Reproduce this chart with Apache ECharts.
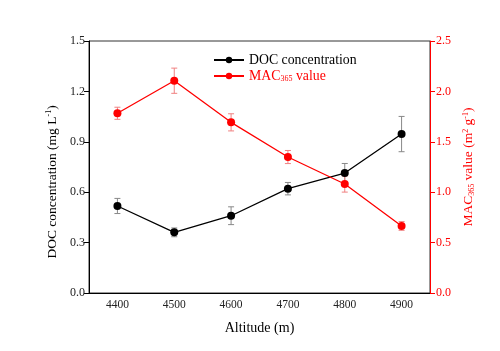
<!DOCTYPE html>
<html><head><meta charset="utf-8">
<script src="https://cdn.jsdelivr.net/npm/echarts@6/dist/echarts.min.js"></script>
<style>html,body{margin:0;padding:0;background:#fff}#c{width:500px;height:351px}</style>
</head><body><div id="c"></div>
<script>
var categories = ['4400','4500','4600','4700','4800','4900'];
var docValues = [0.518, 0.361, 0.460, 0.621, 0.714, 0.946];
var docErr = [0.045, 0.026, 0.053, 0.037, 0.057, 0.105];
var macValues = [1.783, 2.106, 1.693, 1.349, 1.081, 0.665];
var macErr = [0.060, 0.125, 0.085, 0.065, 0.080, 0.043];
var leftTicks = [0, 0.3, 0.6, 0.9, 1.2, 1.5];
var rightTicks = [0, 0.5, 1.0, 1.5, 2.0, 2.5];

var FONT = '"Liberation Serif","Times New Roman",serif';
var RED = '#ff0000';

function errData(vals, errs){
  return vals.map(function(v,i){ return [i, v - errs[i], v + errs[i]]; });
}
function errRender(color){
  return function(params, api){
    var x = api.value(0);
    var lo = api.coord([x, api.value(1)]);
    var hi = api.coord([x, api.value(2)]);
    var w = 3;
    var st = {stroke: color, lineWidth: 1};
    return {type:'group', children:[
      {type:'line', shape:{x1:lo[0], y1:lo[1], x2:hi[0], y2:hi[1]}, style:st},
      {type:'line', shape:{x1:lo[0]-w, y1:lo[1], x2:lo[0]+w, y2:lo[1]}, style:st},
      {type:'line', shape:{x1:hi[0]-w, y1:hi[1], x2:hi[0]+w, y2:hi[1]}, style:st}
    ]};
  };
}

var chart = echarts.init(document.getElementById('c'), null, {renderer:'canvas'});
chart.setOption({
  animation:false,
  backgroundColor:'#fff',
  textStyle:{fontFamily:FONT, fontWeight:'normal'},
  grid:{left:89, right:70, top:41, bottom:58, show:true, borderColor:'#333', borderWidth:1, backgroundColor:'transparent'},
  legend:{
    orient:'vertical', left:213, top:53, padding:0, itemWidth:30, itemHeight:8, itemGap:2,
    data:['DOC concentration','MAC365 value'],
    textStyle:{fontFamily:FONT, fontSize:13.8, fontWeight:'normal', color:'#000',
      rich:{a:{fontFamily:FONT, fontSize:13.8, fontWeight:'normal', color:RED}, sub:{fontFamily:FONT, fontSize:8, fontWeight:'normal', color:RED, verticalAlign:'bottom', lineHeight:8, padding:[6,0,0,0]}}},
    formatter:function(n){ return n==='MAC365 value' ? '{a|MAC}{sub|365}{a| value}' : n; }
  },
  xAxis:{
    type:'category', data:categories, boundaryGap:true,
    name:'Altitude (m)', nameLocation:'middle', nameGap:28,
    nameTextStyle:{fontFamily:FONT, fontSize:14, fontWeight:'normal', color:'#000'},
    axisLine:{lineStyle:{color:'#000', width:1}},
    axisTick:{alignWithLabel:true, length:5, lineStyle:{color:'#000'}},
    axisLabel:{fontFamily:FONT, fontSize:11.5, color:'#222', margin:6},
    splitLine:{show:false}
  },
  yAxis:[{
    type:'value', min:0, max:1.5, interval:0.3, position:'left',
    name:'{a|DOC concentration (mg L}{s|-1}{a|)}', nameLocation:'middle', nameGap:30, nameRotate:90,
    nameTextStyle:{fontWeight:'normal', padding:[0,30,0,0], rich:{a:{fontFamily:FONT, fontSize:13.5, fontWeight:'normal', color:'#000'}, s:{fontFamily:FONT, fontSize:8, fontWeight:'normal', color:'#000', verticalAlign:'top', lineHeight:8}}},
    axisLine:{show:true, lineStyle:{color:'#000', width:1}},
    axisTick:{show:true, length:5, lineStyle:{color:'#000'}},
    axisLabel:{fontFamily:FONT, fontSize:12, color:'#222', margin:4, formatter:function(v){return v.toFixed(1);}},
    splitLine:{show:false}
  },{
    type:'value', min:0, max:2.5, interval:0.5, position:'right',
    name:'{a|MAC}{b|365}{a| value (m}{s|2}{a| g}{s|-1}{a|)}', nameLocation:'middle', nameGap:29, nameRotate:90,
    nameTextStyle:{fontWeight:'normal', rich:{a:{fontFamily:FONT, fontSize:13.5, fontWeight:'normal', color:RED}, b:{fontFamily:FONT, fontSize:8, fontWeight:'normal', color:RED, verticalAlign:'bottom', lineHeight:8}, s:{fontFamily:FONT, fontSize:8, fontWeight:'normal', color:RED, verticalAlign:'top', lineHeight:8}}},
    axisLine:{show:true, lineStyle:{color:RED, width:1}},
    axisTick:{show:true, length:5, lineStyle:{color:RED}},
    axisLabel:{fontFamily:FONT, fontSize:12, color:RED, margin:6, formatter:function(v){return v.toFixed(1);}},
    splitLine:{show:false}
  }],
  series:[
    {type:'custom', name:'docErr', yAxisIndex:0, renderItem:errRender('#888'), data:errData(docValues, docErr), z:1, silent:true},
    {type:'custom', name:'macErr', yAxisIndex:1, renderItem:errRender('#f08080'), data:errData(macValues, macErr), z:1, silent:true},
    {type:'line', name:'DOC concentration', yAxisIndex:0, data:docValues, symbol:'circle', symbolSize:8,
      itemStyle:{color:'#000'}, lineStyle:{color:'#000', width:1.3}, z:3},
    {type:'line', name:'MAC365 value', yAxisIndex:1, data:macValues, symbol:'circle', symbolSize:8,
      itemStyle:{color:RED}, lineStyle:{color:RED, width:1.3}, z:3}
  ]
});
</script></body></html>
